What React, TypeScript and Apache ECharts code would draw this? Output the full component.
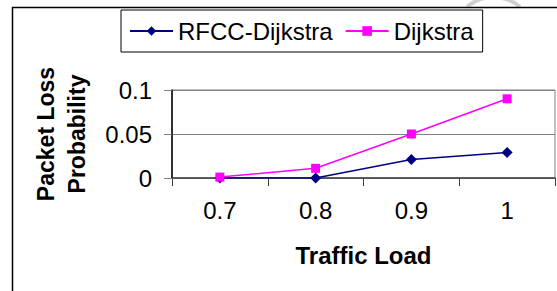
import React, { useEffect, useRef } from "react";
import * as echarts from "echarts";

const categories = ["0.7", "0.8", "0.9", "1"];
const rfccDijkstra = [0, 0, 0.021, 0.029];
const dijkstra = [0.001, 0.011, 0.05, 0.09];
const seriesNames = ["RFCC-Dijkstra", "Dijkstra"];
const xTitle = "Traffic Load";
const yTitle = "Packet Loss\nProbability";

const FONT = "'Liberation Sans', Arial, sans-serif";

export default function App() {
  const ref = useRef<HTMLDivElement>(null);
  useEffect(() => {
    if (!ref.current) return;
    const chart = echarts.init(ref.current, undefined, { renderer: "svg" });
    chart.setOption({
      animation: false,
      backgroundColor: "#fff",
      textStyle: { fontFamily: FONT },
      graphic: [
        {
          type: "arc",
          shape: { cx: 493.5, cy: 37.6, r: 40.5, startAngle: (229 * Math.PI) / 180, endAngle: (311 * Math.PI) / 180 },
          style: { stroke: "#d0d0d0", lineWidth: 4, fill: "none" },
          silent: true,
        },
        {
          type: "rect",
          shape: { x: 12.5, y: 7.5, width: 600, height: 400 },
          style: { stroke: "#000", lineWidth: 1.5, fill: "none" },
          silent: true,
        },
      ],
      legend: {
        left: 121,
        top: 10,
        orient: "horizontal",
        data: seriesNames,
        itemWidth: 43,
        itemHeight: 12,
        itemGap: 12,
        padding: [9, 9, 9, 8],
        borderColor: "#000",
        borderWidth: 1,
        backgroundColor: "#fff",
        textStyle: { fontFamily: FONT, fontSize: 24, color: "#000", lineHeight: 22 },
      },
      grid: {
        left: 172,
        right: 2,
        top: 90,
        bottom: 113,
        show: true,
        borderColor: "#808080",
        borderWidth: 1,
        containLabel: false,
      },
      xAxis: {
        type: "category",
        data: categories,
        boundaryGap: true,
        axisLine: { lineStyle: { color: "#404040", width: 1.5 } },
        axisTick: { show: true, length: 8, interval: 0, lineStyle: { color: "#404040" } },
        axisLabel: { fontFamily: FONT, fontSize: 24, color: "#000", margin: 20 },
        name: xTitle,
        nameLocation: "middle",
        nameGap: 65,
        nameTextStyle: { fontFamily: FONT, fontSize: 24, fontWeight: "bold", color: "#000" },
        splitLine: { show: false },
      },
      yAxis: {
        type: "value",
        min: 0,
        max: 0.1,
        interval: 0.05,
        axisLine: { show: true, lineStyle: { color: "#000", width: 1.5 } },
        axisTick: { show: true, length: 8, lineStyle: { color: "#808080" } },
        axisLabel: { fontFamily: FONT, fontSize: 24, color: "#000", margin: 20 },
        splitLine: { show: true, lineStyle: { color: "#808080", width: 1 } },
        name: yTitle,
        nameLocation: "middle",
        nameRotate: 90,
        nameGap: 80,
        nameTextStyle: { fontFamily: FONT, fontSize: 23, fontWeight: "bold", color: "#000", lineHeight: 31 },
      },
      series: [
        {
          name: seriesNames[0],
          type: "line",
          data: rfccDijkstra,
          symbol: "diamond",
          symbolSize: 11,
          itemStyle: { color: "#000080" },
          lineStyle: { color: "#000080", width: 1.5 },
        },
        {
          name: seriesNames[1],
          type: "line",
          data: dijkstra,
          symbol: "rect",
          symbolSize: 9,
          itemStyle: { color: "#ff00ff" },
          lineStyle: { color: "#ff00ff", width: 1.5 },
        },
      ],
    });
    return () => chart.dispose();
  }, []);
  return <div ref={ref} style={{ width: 557, height: 291, position: "absolute", left: 0, top: 0 }} />;
}
